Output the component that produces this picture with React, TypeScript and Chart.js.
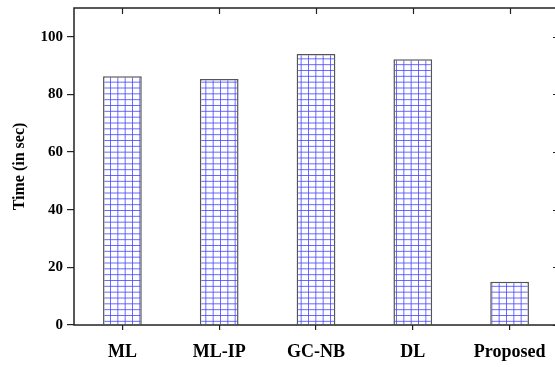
import React, { useEffect, useRef } from "react";
import { Chart, registerables } from "chart.js";

Chart.register(...registerables);

const categories = ["ML", "ML-IP", "GC-NB", "DL", "Proposed"];
const timeValues = [86.3, 85.4, 94.0, 92.2, 15.0];
const yTicks = [0, 20, 40, 60, 80, 100];
const yLabel = "Time (in sec)";

function makePattern(): CanvasPattern | string {
  const w = 22;
  const h = 35;
  const c = document.createElement("canvas");
  c.width = w;
  c.height = h;
  const g = c.getContext("2d");
  if (!g) return "#ccf";
  g.fillStyle = "#ffffff";
  g.fillRect(0, 0, w, h);
  g.strokeStyle = "rgba(70,70,255,0.8)";
  g.lineWidth = 1;
  g.beginPath();
  for (let i = 0; i < 3; i++) {
    const x = (i * w) / 3 + 0.5;
    g.moveTo(x, 0);
    g.lineTo(x, h);
  }
  for (let j = 0; j < 6; j++) {
    const y = (j * h) / 6 + 0.5;
    g.moveTo(0, y);
    g.lineTo(w, y);
  }
  g.stroke();
  const p = g.createPattern(c, "repeat");
  return p || "#ccf";
}

const framePlugin = {
  id: "frame",
  afterDatasetsDraw(chart: any) {
    const { ctx, chartArea } = chart;
    const { left, right, top, bottom } = chartArea;
    const xs = chart.scales.x;
    const ys = chart.scales.y;
    ctx.save();
    ctx.strokeStyle = "#222";
    ctx.lineWidth = 1.5;
    ctx.strokeRect(left, top, right - left, bottom - top);
    ctx.lineWidth = 1.2;
    ctx.beginPath();
    for (let i = 0; i < categories.length; i++) {
      const x = Math.round(xs.getPixelForValue(i)) + 0.5;
      ctx.moveTo(x, top);
      ctx.lineTo(x, top + 6);
    }
    for (const v of yTicks) {
      const y = Math.round(ys.getPixelForValue(v)) + 0.5;
      ctx.moveTo(right, y);
      ctx.lineTo(right - 5, y);
    }
    ctx.stroke();
    ctx.restore();
  },
};

export default function App() {
  const ref = useRef<HTMLCanvasElement | null>(null);
  useEffect(() => {
    if (!ref.current) return;
    const pattern = makePattern();
    const chart = new Chart(ref.current, {
      type: "bar",
      data: {
        labels: categories,
        datasets: [
          {
            data: timeValues,
            backgroundColor: pattern as any,
            borderColor: "#555",
            borderWidth: 1.5,
            barPercentage: 0.4,
            categoryPercentage: 1,
          },
        ],
      },
      options: {
        animation: false,
        responsive: false,
        devicePixelRatio: 1,
        layout: { padding: { top: 8, right: 4, left: 0, bottom: 0 } },
        plugins: { legend: { display: false }, tooltip: { enabled: false } },
        scales: {
          x: {
            grid: {
              display: true,
              drawOnChartArea: false,
              offset: false,
              tickLength: 5,
              tickColor: "#222",
              lineWidth: 1.2,
            },
            border: { display: false },
            ticks: {
              color: "#000",
              padding: 12,
              font: { family: "Liberation Serif", weight: "bold", size: 18 },
              maxRotation: 0,
            },
            afterFit: (s: any) => {
              s.height = 42;
            },
          },
          y: {
            min: 0,
            max: 110,
            afterBuildTicks: (s: any) => {
              s.ticks = yTicks.map((v) => ({ value: v }));
            },
            grid: {
              display: true,
              drawOnChartArea: false,
              tickLength: 7,
              tickColor: "#222",
              lineWidth: 1.2,
            },
            border: { display: false },
            ticks: {
              color: "#000",
              padding: 4,
              font: { family: "Liberation Serif", weight: "bold", size: 15, lineHeight: 0.5 },
            },
            title: {
              display: true,
              text: yLabel,
              color: "#000",
              font: { family: "Liberation Serif", weight: "bold", size: 16 },
              padding: { top: 10, bottom: 0 },
            },
            afterFit: (s: any) => {
              s.width = 74;
            },
          },
        },
      },
      plugins: [framePlugin],
    });
    return () => chart.destroy();
  }, []);
  return (
    <div
      style={{
        position: "fixed",
        left: 0,
        top: 0,
        width: 555,
        height: 367,
        overflow: "hidden",
        background: "#fff",
      }}
    >
      <canvas ref={ref} width={562} height={367} style={{ display: "block" }} />
    </div>
  );
}
